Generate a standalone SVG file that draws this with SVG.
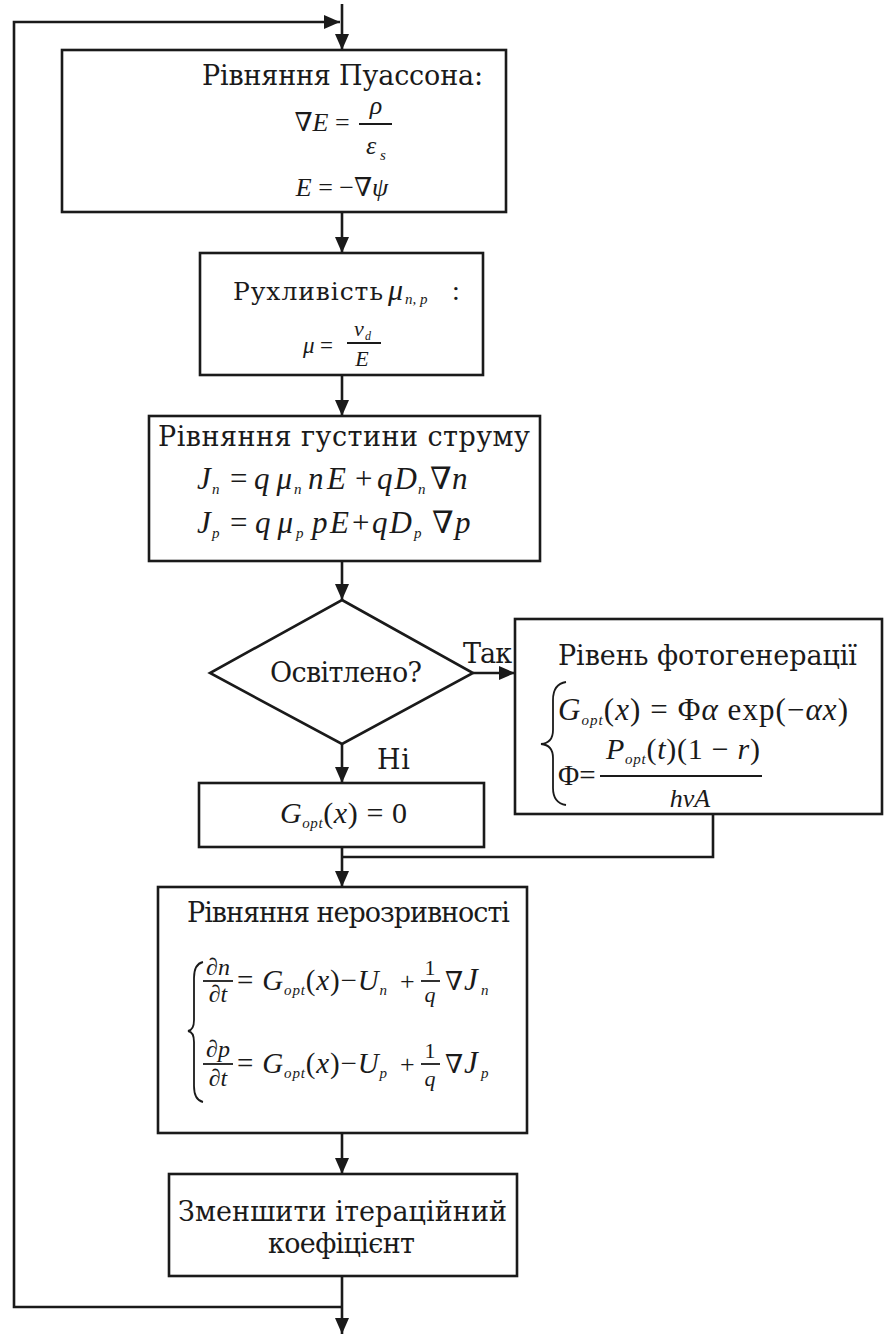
<svg xmlns="http://www.w3.org/2000/svg" width="884" height="1336" viewBox="0 0 884 1336">
<defs>
<marker id="ah" viewBox="0 0 16 14" refX="16" refY="7" markerWidth="16" markerHeight="14" orient="auto" markerUnits="userSpaceOnUse"><path d="M0,0 L16,7 L0,14 z" fill="#1a1a1a"/></marker>
<style>
.box{fill:#fff;stroke:#1a1a1a;stroke-width:2.6}
.ln{fill:none;stroke:#1a1a1a;stroke-width:2.6}
.t{font-family:"DejaVu Serif","Liberation Serif",serif;font-size:27px;fill:#1a1a1a}
.m{font-family:"Liberation Serif","DejaVu Serif",serif;font-size:26px;fill:#1a1a1a}
.j{font-family:"Liberation Serif","DejaVu Serif",serif;font-size:31px;font-style:italic;fill:#1a1a1a}
.jn{font-family:"Liberation Serif","DejaVu Serif",serif;font-size:31px;fill:#1a1a1a}
.i{font-style:italic}
.s{font-family:"Liberation Serif","DejaVu Serif",serif;font-size:15px;font-style:italic;fill:#1a1a1a}
.br{fill:none;stroke:#1a1a1a;stroke-width:1.8}
</style>
</defs>
<rect width="884" height="1336" fill="#fff"/>
<g id="connectors">
<line class="ln" x1="342" y1="4" x2="342" y2="50" marker-end="url(#ah)"/>
<polyline class="ln" points="342,1307 14,1307 14,22 340,22" marker-end="url(#ah)"/>
<line class="ln" x1="342" y1="212" x2="342" y2="253" marker-end="url(#ah)"/>
<line class="ln" x1="342" y1="375" x2="342" y2="416" marker-end="url(#ah)"/>
<line class="ln" x1="342" y1="561" x2="342" y2="600" marker-end="url(#ah)"/>
<line class="ln" x1="342" y1="744" x2="342" y2="783" marker-end="url(#ah)"/>
<line class="ln" x1="473" y1="673" x2="515" y2="673" marker-end="url(#ah)"/>
<line class="ln" x1="342" y1="847" x2="342" y2="887" marker-end="url(#ah)"/>
<polyline class="ln" points="713,814 713,857 342,857"/>
<line class="ln" x1="342" y1="1133" x2="342" y2="1174" marker-end="url(#ah)"/>
<line class="ln" x1="342" y1="1276" x2="342" y2="1334" marker-end="url(#ah)"/>
<text class="t" x="463" y="663" textLength="49" lengthAdjust="spacing">Так</text>
<text class="t" x="377" y="769" textLength="33" lengthAdjust="spacing">Ні</text>
</g>
<g id="poisson">
<rect class="box" x="62" y="50" width="444" height="162"/>
<text class="t" x="202" y="85" textLength="281" lengthAdjust="spacing">Рівняння Пуассона:</text>
<text class="m" x="322" y="131" text-anchor="middle">∇<tspan class="i">E</tspan> =</text>
<line class="br" x1="359" y1="124" x2="392" y2="124"/>
<text class="m i" x="376" y="114" text-anchor="middle">ρ</text>
<text class="m i" x="371" y="154" text-anchor="middle">ε</text>
<text class="s" x="380" y="160">s</text>
<text class="m" x="342" y="196" text-anchor="middle"><tspan class="i">E</tspan> = −∇<tspan class="i">ψ</tspan></text>
</g>
<g id="mobility">
<rect class="box" x="200" y="253" width="283" height="122"/>
<text class="t" x="233" y="300" style="font-size:25px" textLength="150" lengthAdjust="spacing">Рухливість</text>
<text class="j" x="388" y="300" style="font-size:30px">μ</text>
<text class="s" x="405" y="304">n, p</text>
<text class="jn" x="452" y="300" style="font-size:28px">:</text>
<text class="m i" x="303" y="353" style="font-size:23px">μ</text>
<text class="m" x="320" y="353" style="font-size:23px">=</text>
<line class="br" x1="347" y1="343" x2="381" y2="343" stroke-width="1.5"/>
<text class="m i" x="354" y="336" style="font-size:22px">v</text>
<text class="s" x="365" y="340" style="font-size:12px">d</text>
<text class="m i" x="362" y="366" style="font-size:22px" text-anchor="middle">E</text>
</g>
<g id="current">
<rect class="box" x="149" y="416" width="391" height="145"/>
<text class="t" x="158" y="446" textLength="372" lengthAdjust="spacing">Рівняння густини струму</text>
<text class="j" x="197" y="489">J</text><text class="s" x="212" y="494">n</text>
<text class="jn" x="230" y="489">=</text>
<text class="j" x="254" y="489" textLength="38" lengthAdjust="spacing">qμ</text><text class="s" x="294" y="494">n</text>
<text class="j" x="308" y="489" textLength="38" lengthAdjust="spacing">nE</text>
<text class="jn" x="355" y="489">+</text>
<text class="j" x="377" y="489" textLength="40" lengthAdjust="spacing">qD</text><text class="s" x="418" y="494">n</text>
<text class="jn" x="430" y="489">∇</text>
<text class="j" x="452" y="489">n</text>
<text class="j" x="197" y="533">J</text><text class="s" x="212" y="538">p</text>
<text class="jn" x="230" y="533">=</text>
<text class="j" x="255" y="533" textLength="38" lengthAdjust="spacing">qμ</text><text class="s" x="296" y="538">p</text>
<text class="j" x="312" y="533" textLength="37" lengthAdjust="spacing">pE</text>
<text class="jn" x="352" y="533">+</text>
<text class="j" x="372" y="533" textLength="40" lengthAdjust="spacing">qD</text><text class="s" x="414" y="538">p</text>
<text class="jn" x="432" y="533">∇</text>
<text class="j" x="455" y="533">p</text>
</g>
<g id="decision">
<polygon class="box" points="342,600 473,673 342,744 210,673"/>
<text class="t" x="270" y="682" textLength="152" lengthAdjust="spacing">Освітлено?</text>
</g>
<g id="photogen">
<rect class="box" x="515" y="619" width="367" height="195"/>
<text class="t" x="558" y="665" textLength="299" lengthAdjust="spacing">Рівень фотогенерації</text>
<path class="br" d="M566,682 Q553,684 553,700 L553,730 Q553,743 541,744 Q553,745 553,758 L553,788 Q553,803 566,805"/>
<text class="m" x="558" y="720" style="font-size:31px" textLength="290" lengthAdjust="spacing"><tspan class="i">G</tspan><tspan class="s" dy="5">opt</tspan><tspan dy="-5">(</tspan><tspan class="i">x</tspan>) = Φ<tspan class="i">α</tspan> exp(−<tspan class="i">αx</tspan>)</text>
<text class="m" x="558" y="785" style="font-size:29px">Φ=</text>
<line class="br" x1="600" y1="776" x2="762" y2="776"/>
<text class="m" x="606" y="759" style="font-size:30px" textLength="154" lengthAdjust="spacing"><tspan class="i">P</tspan><tspan class="s" dy="5">opt</tspan><tspan dy="-5">(</tspan><tspan class="i">t</tspan>)(1 − <tspan class="i">r</tspan>)</text>
<text class="m i" x="690" y="807" style="font-size:26px" text-anchor="middle">hνA</text>
</g>
<g id="gzero">
<rect class="box" x="199" y="783" width="285" height="64"/>
<text class="m" x="280" y="823" style="font-size:30px" textLength="127" lengthAdjust="spacing"><tspan class="i">G</tspan><tspan class="s" dy="5">opt</tspan><tspan dy="-5">(</tspan><tspan class="i">x</tspan>) = 0</text>
</g>
<g id="continuity">
<rect class="box" x="158" y="887" width="369" height="246"/>
<text class="t" x="187" y="922" textLength="323" lengthAdjust="spacing">Рівняння нерозривності</text>
<path class="br" d="M203,962 Q194,964 194,978 L194,1020 Q194,1030 188,1031 Q194,1032 194,1042 L194,1086 Q194,1100 203,1102" stroke-width="1.4"/>
<text class="m i" x="218" y="975" style="font-size:24px" text-anchor="middle">∂n</text>
<line class="br" x1="203" y1="981" x2="233" y2="981" stroke-width="1.6"/>
<text class="m i" x="218" y="1002" style="font-size:24px" text-anchor="middle">∂t</text>
<text class="m" x="237" y="990" style="font-size:29px" textLength="150" lengthAdjust="spacing">= <tspan class="i">G</tspan><tspan class="s" dy="5">opt</tspan><tspan dy="-5">(</tspan><tspan class="i">x</tspan>)−<tspan class="i">U</tspan><tspan class="s" dy="5">n</tspan></text>
<text class="m" x="400" y="990" style="font-size:26px">+</text>
<text class="m" x="430" y="975" style="font-size:22px" text-anchor="middle">1</text>
<line class="br" x1="421" y1="981" x2="440" y2="981" stroke-width="1.6"/>
<text class="m i" x="430" y="1002" style="font-size:22px" text-anchor="middle">q</text>
<text class="m" x="445" y="990" style="font-size:26px">∇</text>
<text class="j" x="464" y="990" style="font-size:31px">J</text>
<text class="s" x="481" y="995">n</text>
<text class="m i" x="218" y="1057" style="font-size:24px" text-anchor="middle">∂p</text>
<line class="br" x1="203" y1="1064" x2="233" y2="1064" stroke-width="1.6"/>
<text class="m i" x="218" y="1086" style="font-size:24px" text-anchor="middle">∂t</text>
<text class="m" x="237" y="1073" style="font-size:29px" textLength="150" lengthAdjust="spacing">= <tspan class="i">G</tspan><tspan class="s" dy="5">opt</tspan><tspan dy="-5">(</tspan><tspan class="i">x</tspan>)−<tspan class="i">U</tspan><tspan class="s" dy="5">p</tspan></text>
<text class="m" x="400" y="1073" style="font-size:26px">+</text>
<text class="m" x="430" y="1058" style="font-size:22px" text-anchor="middle">1</text>
<line class="br" x1="421" y1="1064" x2="440" y2="1064" stroke-width="1.6"/>
<text class="m i" x="430" y="1086" style="font-size:22px" text-anchor="middle">q</text>
<text class="m" x="445" y="1073" style="font-size:26px">∇</text>
<text class="j" x="464" y="1073" style="font-size:31px">J</text>
<text class="s" x="481" y="1078">p</text>
</g>
<g id="reduce">
<rect class="box" x="169" y="1174" width="348" height="102"/>
<text class="t" x="178" y="1221" textLength="329" lengthAdjust="spacing">Зменшити ітераційний</text>
<text class="t" x="268" y="1253" textLength="147" lengthAdjust="spacing">коефіцієнт</text>
</g>
</svg>
